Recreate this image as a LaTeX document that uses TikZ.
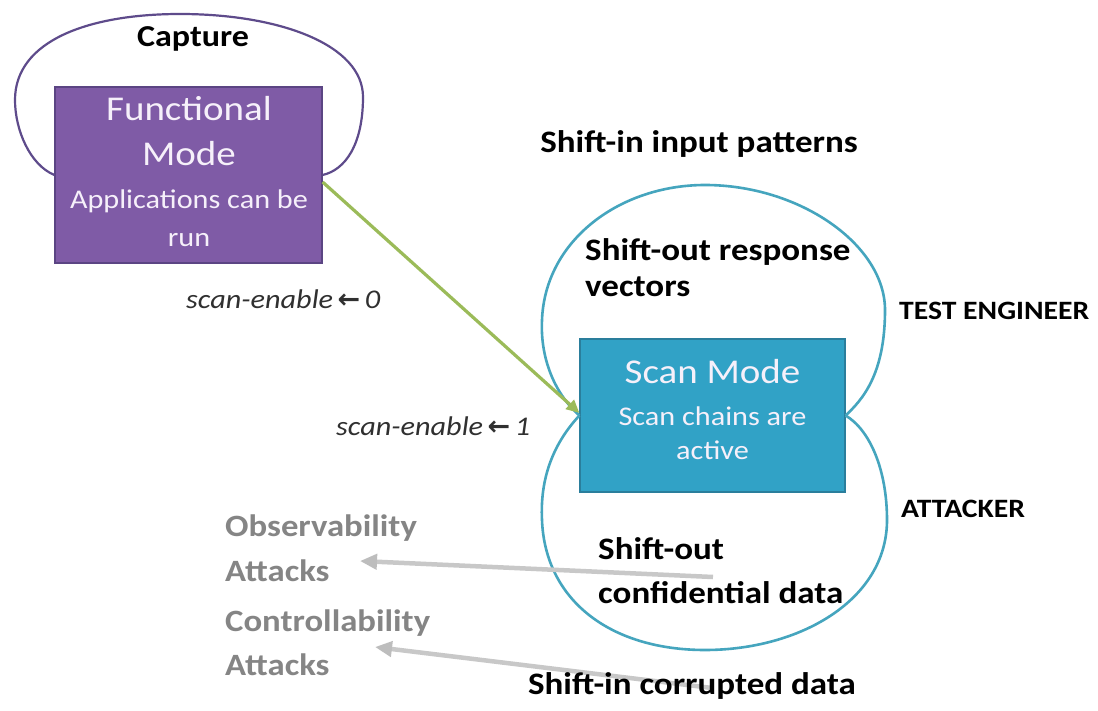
\documentclass[tikz,border=0pt]{standalone}
\usepackage{fontspec}
\setmainfont{Carlito}[FakeStretch=1.12]
\newfontfamily\symfont{DejaVu Sans}
\usetikzlibrary{arrows.meta}
\definecolor{fmfill}{HTML}{7F5BA6}
\definecolor{fmline}{HTML}{5B4583}
\definecolor{capline}{HTML}{5E4B8B}
\definecolor{smfill}{HTML}{31A2C6}
\definecolor{smline}{HTML}{2A7E9C}
\definecolor{loopc}{HTML}{45A5BE}
\definecolor{garr}{HTML}{9BBB59}
\definecolor{grayarr}{HTML}{C8C8C8}
\definecolor{grayhead}{HTML}{BDBDBD}
\definecolor{graytxt}{HTML}{858585}
\definecolor{itxt}{HTML}{303030}
\definecolor{boxtxt}{HTML}{F6F0FA}
\tikzset{
  fmbox/.style={draw=fmline, line width=1.2pt, fill=fmfill, minimum width=267pt, minimum height=176pt, inner sep=0pt},
  smbox/.style={draw=smline, line width=1.2pt, fill=smfill, minimum width=265pt, minimum height=153pt, inner sep=0pt},
  txt/.style={inner sep=0pt, text height=0.64em, text depth=0pt},
  wbig/.style={txt, text=boxtxt, font=\fontsize{34.8}{40}\selectfont},
  wsmall/.style={txt, text=boxtxt, font=\fontsize{27}{32}\selectfont},
  blab/.style={txt, font=\bfseries\fontsize{31.25}{37}\selectfont},
  rolelab/.style={txt, font=\bfseries\fontsize{26.5}{31}\selectfont},
  glab/.style={txt, text=graytxt, font=\bfseries\fontsize{31}{37}\selectfont},
  ilab/.style={txt, text=itxt, font=\itshape\fontsize{27}{32}\selectfont},
  caploop/.style={draw=capline, line width=2.2pt},
  tloop/.style={draw=loopc, line width=2.6pt},
  garrow/.style={draw=garr, line width=3.2pt, -{Triangle[length=13pt,width=12pt]}},
  grarrow/.style={draw=grayarr, line width=4.5pt, -{Triangle[length=17pt,width=15pt,color=grayhead]}}
}
\begin{document}
\begin{tikzpicture}[x=1pt,y=-1pt]
\useasboundingbox[fill=white] (0,0) rectangle (1098,711);
% boxes
\node[fmbox] (fm) at (188.5,175) {};
\node[smbox] (sm) at (712.5,415.5) {};
% capture loop
\draw[caploop] (fm.west) .. controls (30,165) and (15,130) .. (15,100)
  .. controls (15,40) and (90,14) .. (180,14)
  .. controls (280,14) and (363,45) .. (363,97)
  .. controls (363,145) and (345,170) .. (fm.east);
% scan mode loops
\draw[tloop] (sm.west) .. controls (556,395) and (540,360) .. (542,320)
  .. controls (545,240) and (620,185) .. (705,185)
  .. controls (800,185) and (885,245) .. (885,310)
  .. controls (885,375) and (862,400) .. (sm.east);
\draw[tloop] (sm.west) .. controls (552,445) and (540,480) .. (542,520)
  .. controls (545,600) and (610,650) .. (705,650)
  .. controls (800,650) and (887,600) .. (887,520)
  .. controls (887,470) and (870,430) .. (sm.east);
% gray arrows (behind the labels)
\coordinate (obsS) at (713,577);
\coordinate (obsE) at (360,561);
\coordinate (ctlS) at (712,688);
\coordinate (ctlE) at (375,647);
\draw[grarrow] (obsS) -- (obsE);
\draw[grarrow] (ctlS) -- (ctlE);
% texts in boxes
\node[wbig] (fm1) at (189,117) {Functional};
\node[wbig] (fm2) at (189,162) {Mode};
\node[wsmall] (fm3) at (189,205) {Applications can be};
\node[wsmall] (fm4) at (189,243) {run};
\node[wbig] (sm1) at (712.5,380) {Scan Mode};
\node[wsmall] (sm2) at (712.5,422) {Scan chains are};
\node[wsmall] (sm3) at (712.5,456) {active};
% labels
\node[txt, font=\bfseries\fontsize{30.4}{36}\selectfont] (capt) at (193,43) {Capture};
\node[blab] (sip) at (699,149) {Shift-in input patterns};
\node[blab, anchor=west] (sor1) at (585,257) {Shift-out response};
\node[blab, anchor=west] (sor2) at (585,293) {vectors};
\node[rolelab, anchor=west] (te) at (899,316) {TEST ENGINEER};
\node[rolelab, anchor=west] (att) at (901,514) {ATTACKER};
\node[blab, anchor=west] (soc1) at (598,556) {Shift-out};
\node[blab, anchor=west] (soc2) at (598,600) {confidential data};
\node[blab] (sic) at (692,691) {Shift-in corrupted data};
\node[ilab, anchor=west] (se0) at (186,305) {scan-enable\,{\symfont\bfseries ←}\,0};
\node[ilab, anchor=west] (se1) at (336,432) {scan-enable\,{\symfont\bfseries ←}\,1};
\node[glab, anchor=west] (ob1) at (225,533) {Observability};
\node[glab, anchor=west] (ob2) at (225,578) {Attacks};
\node[glab, anchor=west] (co1) at (225,628) {Controllability};
\node[glab, anchor=west] (co2) at (225,672) {Attacks};
% mode transition arrow
\draw[garrow] ([yshift=-7pt]fm.east) -- ([yshift=2.5pt]sm.west);
\end{tikzpicture}
\end{document}
